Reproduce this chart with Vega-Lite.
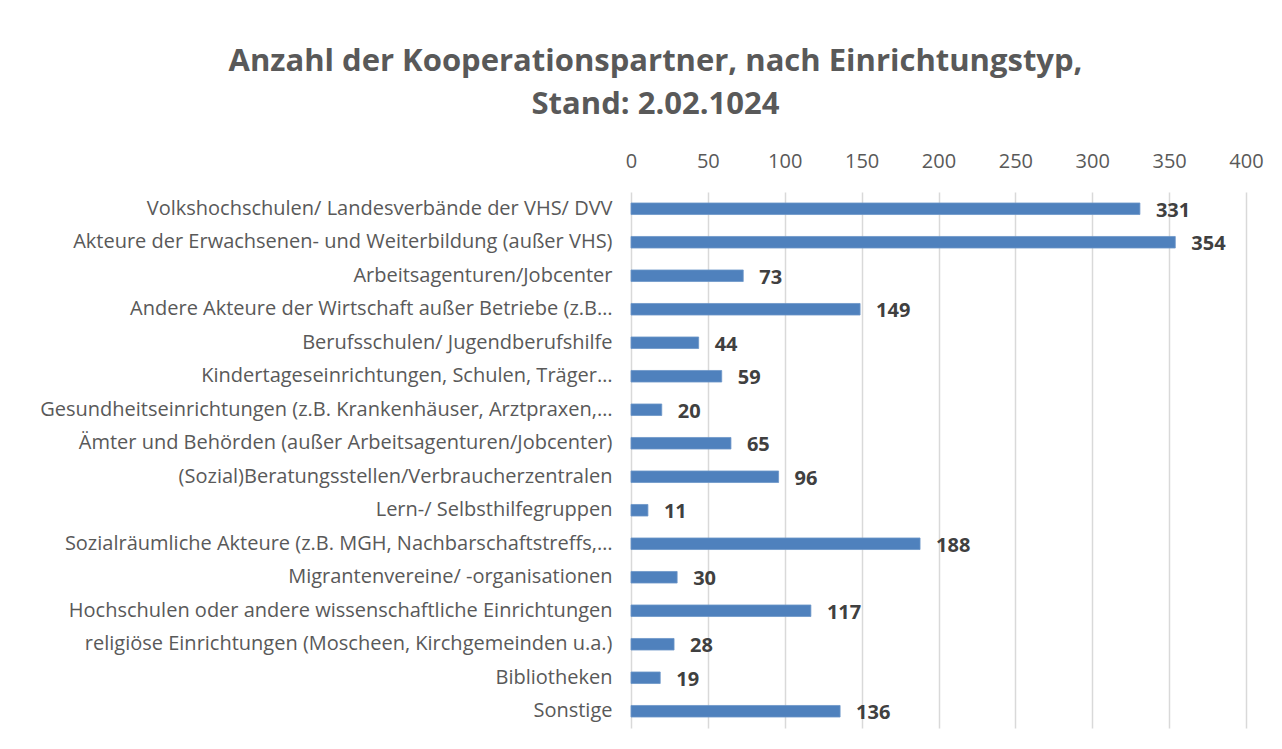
{
  "$schema": "https://vega.github.io/schema/vega-lite/v6.json",
  "width": 615,
  "height": 536,
  "autosize": {"type": "none"},
  "padding": {"left": 631, "top": 192, "right": 36, "bottom": 21},
  "background": "white",
  "title": {
    "text": ["Anzahl der Kooperationspartner, nach Einrichtungstyp,", "Stand: 2.02.1024"],
    "fontSize": 31,
    "font": "Open Sans",
    "fontWeight": "bold",
    "color": "#595959",
    "anchor": "middle",
    "dx": -283,
    "lineHeight": 43,
    "offset": 30
  },
  "data": {
    "values": [
      {"typ": "Volkshochschulen/ Landesverbände der VHS/ DVV", "anzahl": 331},
      {"typ": "Akteure der Erwachsenen- und Weiterbildung (außer VHS)", "anzahl": 354},
      {"typ": "Arbeitsagenturen/Jobcenter", "anzahl": 73},
      {"typ": "Andere Akteure der Wirtschaft außer Betriebe (z.B…", "anzahl": 149},
      {"typ": "Berufsschulen/ Jugendberufshilfe", "anzahl": 44},
      {"typ": "Kindertageseinrichtungen, Schulen, Träger…", "anzahl": 59},
      {"typ": "Gesundheitseinrichtungen (z.B. Krankenhäuser, Arztpraxen,…", "anzahl": 20},
      {"typ": "Ämter und Behörden (außer Arbeitsagenturen/Jobcenter)", "anzahl": 65},
      {"typ": "(Sozial)Beratungsstellen/Verbraucherzentralen", "anzahl": 96},
      {"typ": "Lern-/ Selbsthilfegruppen", "anzahl": 11},
      {"typ": "Sozialräumliche Akteure (z.B. MGH, Nachbarschaftstreffs,…", "anzahl": 188},
      {"typ": "Migrantenvereine/ -organisationen", "anzahl": 30},
      {"typ": "Hochschulen oder andere wissenschaftliche Einrichtungen", "anzahl": 117},
      {"typ": "religiöse Einrichtungen (Moscheen, Kirchgemeinden u.a.)", "anzahl": 28},
      {"typ": "Bibliotheken", "anzahl": 19},
      {"typ": "Sonstige", "anzahl": 136}
    ]
  },
  "encoding": {
    "y": {
      "field": "typ",
      "type": "nominal",
      "sort": null,
      "scale": {"paddingInner": 0.655, "paddingOuter": 0.3275},
      "axis": {
        "title": null,
        "domain": false,
        "ticks": false,
        "labelPadding": 19,
        "labelFont": "Open Sans",
        "labelFontSize": 20,
        "labelColor": "#595959",
        "labelLimit": 700
      }
    },
    "x": {
      "field": "anzahl",
      "type": "quantitative",
      "scale": {"domain": [0, 400], "nice": false},
      "axis": {
        "orient": "top",
        "title": null,
        "values": [0, 50, 100, 150, 200, 250, 300, 350, 400],
        "domain": false,
        "ticks": false,
        "labelPadding": 21,
        "labelFont": "Open Sans",
        "labelFontSize": 20,
        "labelColor": "#595959",
        "gridColor": "#D9D9D9",
        "gridWidth": 1.5,
        "labelFlush": false
      }
    }
  },
  "layer": [
    {"mark": {"type": "bar", "color": "#4F81BD", "stroke": "#6C95C8", "strokeWidth": 0.8}},
    {
      "mark": {"type": "text", "align": "left", "baseline": "middle", "dx": 16, "dy": 2, "font": "Open Sans", "fontSize": 20, "fontWeight": "bold", "color": "#404040"},
      "encoding": {"text": {"field": "anzahl", "type": "quantitative"}}
    }
  ],
  "config": {"view": {"stroke": null}}
}
